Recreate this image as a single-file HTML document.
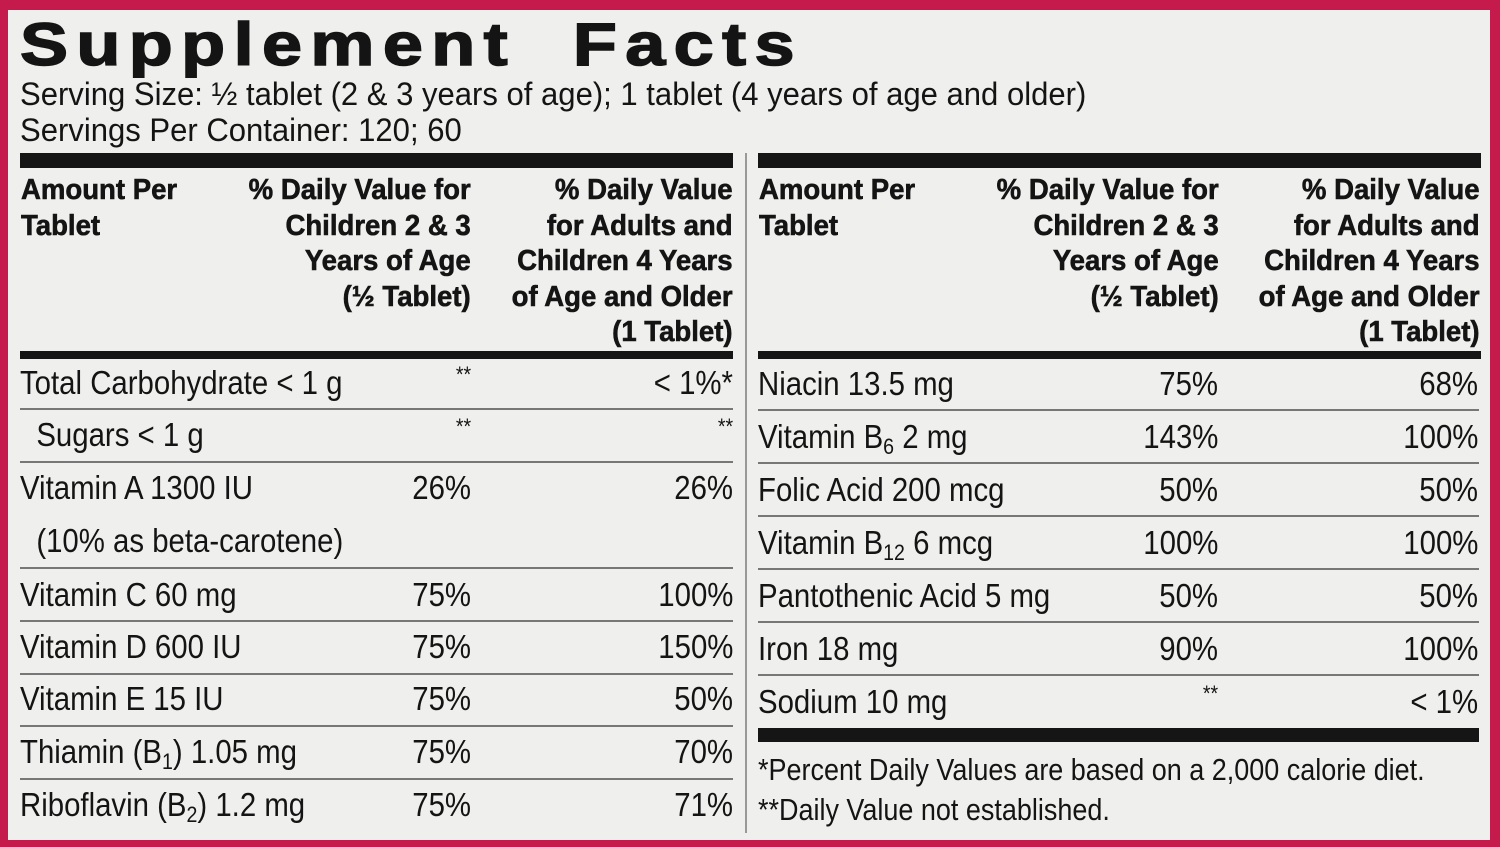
<!DOCTYPE html>
<html><head><meta charset="utf-8"><style>
body{margin:0;width:1500px;height:847px;background:#c41a4c;overflow:hidden;position:relative;font-family:"Liberation Sans",sans-serif;color:#141414}
#panel{position:absolute;left:8px;top:10px;width:1482px;height:830px;background:#efefed}
.a{position:absolute;white-space:nowrap;transform-origin:left center}
.r{text-align:right;transform-origin:right center}
.t{font-size:33px;line-height:40px;transform:scaleX(0.89)}
.h{font-weight:bold;font-size:29px;line-height:35.5px;transform:scaleX(0.95);-webkit-text-stroke:0.6px #141414}
.thick{position:absolute;background:#151515}
.thin{position:absolute;background:#777;height:2px}
sub{font-size:22px;vertical-align:-6px;line-height:0}
</style></head><body>
<div id="panel"></div>
<div class="a" style="left:20px;top:10px;font-weight:900;font-size:60px;line-height:70px;letter-spacing:7px;transform:scaleX(1.2);-webkit-text-stroke:1.5px #141414">Supplement&nbsp; Facts</div>
<div class="a" style="left:20px;top:75px;font-size:32px;line-height:38px;transform:scaleX(0.97)">Serving Size: ½ tablet (2 &amp; 3 years of age); 1 tablet (4 years of age and older)</div>
<div class="a" style="left:20px;top:111px;font-size:32px;line-height:38px;transform:scaleX(0.97)">Servings Per Container: 120; 60</div>
<div class="thick" style="left:20px;top:153px;width:713px;height:15px"></div>
<div class="thick" style="left:758px;top:153px;width:723px;height:15px"></div>
<div class="thick" style="left:20px;top:351px;width:713px;height:8px"></div>
<div class="thick" style="left:758px;top:351px;width:723px;height:8px"></div>
<div style="position:absolute;left:745px;top:153px;width:2px;height:680px;background:#999"></div>
<div class="thick" style="left:758px;top:728px;width:721px;height:14px"></div>

<div class="a h" style="left:21px;top:173px">Amount Per<br>Tablet</div>
<div class="a h r" style="right:1029px;top:173px">% Daily Value for<br>Children 2 &amp; 3<br>Years of Age<br>(½ Tablet)</div>
<div class="a h r" style="right:767px;top:173px">% Daily Value<br>for Adults and<br>Children 4 Years<br>of Age and Older<br>(1 Tablet)</div>
<div class="a h" style="left:759px;top:173px">Amount Per<br>Tablet</div>
<div class="a h r" style="right:281px;top:173px">% Daily Value for<br>Children 2 &amp; 3<br>Years of Age<br>(½ Tablet)</div>
<div class="a h r" style="right:20px;top:173px">% Daily Value<br>for Adults and<br>Children 4 Years<br>of Age and Older<br>(1 Tablet)</div>

<div class="a" style="left:758px;top:750px;font-size:31px;line-height:40px;transform:scaleX(0.87)">*Percent Daily Values are based on a 2,000 calorie diet.</div>
<div class="a" style="left:758px;top:790px;font-size:31px;line-height:40px;transform:scaleX(0.87)">**Daily Value not established.</div>
<script>
const leftNames=["Total Carbohydrate &lt; 1 g","&nbsp;&nbsp;Sugars &lt; 1 g","Vitamin A 1300 IU","&nbsp;&nbsp;(10% as beta-carotene)","Vitamin C 60 mg","Vitamin D 600 IU","Vitamin E 15 IU","Thiamin (B<sub>1</sub>) 1.05 mg","Riboflavin (B<sub>2</sub>) 1.2 mg"];
const leftChild=["**","**","26%","","75%","75%","75%","75%","75%"];
const leftAdult=["&lt; 1%*","**","26%","","100%","150%","50%","70%","71%"];
const leftCenters=[383,435,488,541,595,647,699,752,805];
const leftLines=[408,461,567,620,673,725,778];
const rightNames=["Niacin 13.5 mg","Vitamin B<sub>6</sub> 2 mg","Folic Acid 200 mcg","Vitamin B<sub>12</sub> 6 mcg","Pantothenic Acid 5 mg","Iron 18 mg","Sodium 10 mg"];
const rightChild=["75%","143%","50%","100%","50%","90%","**"];
const rightAdult=["68%","100%","50%","100%","50%","100%","&lt; 1%"];
const rightCenters=[384,437,490,543,596,649,702];
const rightLines=[409,462,515,568,621,674];
function txt(html,css,name){
  const d=document.createElement('div');
  d.className='a t'+(css.right?' r':'');
  d.innerHTML=html;
  
  
  Object.assign(d.style,css);
  document.body.appendChild(d);
}
function line(l,w,y,name){
  const d=document.createElement('div');
  d.className='thin';
  
  
  d.style.left=l+'px';d.style.width=w+'px';d.style.top=y+'px';
  document.body.appendChild(d);
}
leftNames.forEach((n,i)=>{
  const top=(leftCenters[i]-20)+'px';
  const star=leftChild[i]==='**';
  txt(n,{left:'20px',top},'left-nutrient-name');
  txt(leftChild[i],{right:'1029px',top:star?(leftCenters[i]-28)+'px':top,fontSize:star?'22px':''},'left-child-value');
  const s2=leftAdult[i]==='**';
  txt(leftAdult[i],{right:'767px',top:s2?(leftCenters[i]-28)+'px':top,fontSize:s2?'22px':''},'left-adult-value');
});
leftLines.forEach(y=>line(20,713,y,'left-row-divider'));
rightNames.forEach((n,i)=>{
  const top=(rightCenters[i]-20)+'px';
  const star=rightChild[i]==='**';
  txt(n,{left:'758px',top},'right-nutrient-name');
  txt(rightChild[i],{right:'282px',top:star?(rightCenters[i]-28)+'px':top,fontSize:star?'22px':''},'right-child-value');
  txt(rightAdult[i],{right:'22px',top},'right-adult-value');
});
rightLines.forEach(y=>line(758,721,y,'right-row-divider'));
</script>
</body></html>
